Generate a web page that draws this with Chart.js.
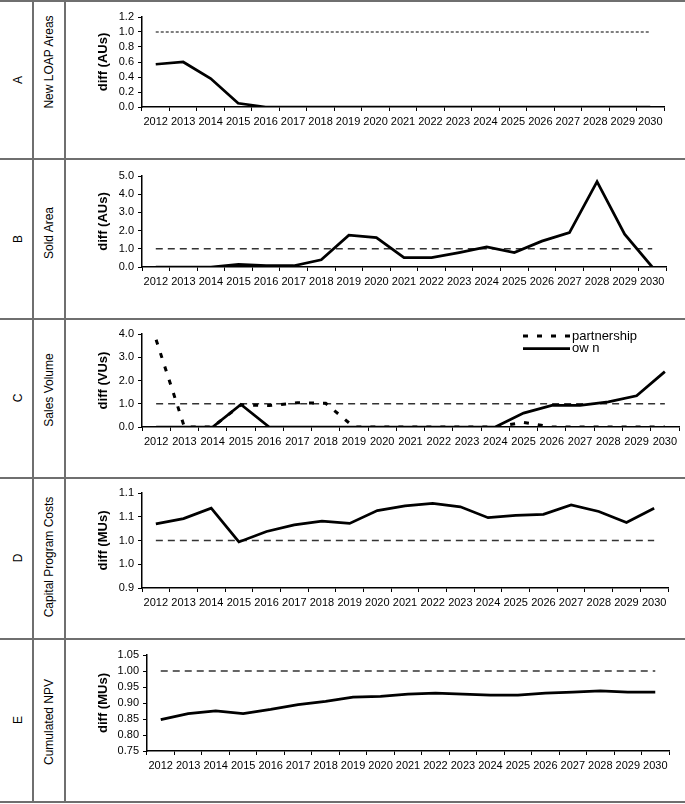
<!DOCTYPE html>
<html>
<head>
<meta charset="utf-8">
<title>diff panels</title>
<script src="https://cdn.jsdelivr.net/npm/chart.js@4.4.1/dist/chart.umd.min.js"></script>
<style>
  html, body { margin: 0; padding: 0; background: #fff; }
  body {
    width: 685px; height: 804px; position: relative; overflow: hidden;
    font-family: "Liberation Sans", Arial, sans-serif;
  }
  .hline { position: absolute; left: 0; width: 685px; height: 2px; background: #6f6f6f; }
  .vline { position: absolute; width: 2px; background: #6f6f6f; }
  .rot {
    position: absolute; white-space: nowrap; font-size: 12px; color: #000;
    transform: translate(-50%, -50%) rotate(-90deg);
  }
  canvas { position: absolute; }
</style>
</head>
<body>
<script>
/* DATA */
const years = ["2012","2013","2014","2015","2016","2017","2018","2019","2020","2021",
               "2022","2023","2024","2025","2026","2027","2028","2029","2030"];

const refLevel = [1,1,1,1,1,1,1,1,1,1,1,1,1,1,1,1,1,1,1];

const newLoapAreas = [0.57,0.60,0.38,0.05,0,0,0,0,0,0,0,0,0,0,0,0,0,0,0];
const soldArea = [0,0,0,0.15,0.07,0.07,0.40,1.75,1.62,0.51,0.51,0.79,1.10,0.79,1.42,1.89,4.69,1.80,0];
const salesPartnership = [3.75,0,0,0.95,0.92,1.04,1.02,0,0,0,0,0,0,0.2,0,0,0,0,0];
const salesOwn = [0,0,0,0.97,0,0,0,0,0,0,0,0,0,0.60,0.93,0.93,1.08,1.34,2.38];
const capitalCosts = [1.035,1.046,1.068,0.997,1.019,1.033,1.041,1.036,1.063,1.073,
                      1.078,1.071,1.048,1.053,1.055,1.075,1.061,1.038,1.068];
const cumulatedNpv = [0.848,0.867,0.875,0.867,0.880,0.895,0.905,0.918,0.921,0.928,
                      0.931,0.928,0.925,0.925,0.931,0.934,0.938,0.934,0.934];

const ticksA = [0,0.2,0.4,0.6,0.8,1.0,1.2];
const labelsA = ["0.0","0.2","0.4","0.6","0.8","1.0","1.2"];
const ticksB = [0,1,2,3,4,5];
const labelsB = ["0.0","1.0","2.0","3.0","4.0","5.0"];
const ticksC = [0,1,2,3,4];
const labelsC = ["0.0","1.0","2.0","3.0","4.0"];
const ticksD = [0.9,0.95,1.0,1.05,1.1];
const labelsD = ["0.9","1.0","1.0","1.1","1.1"];
const ticksE = [0.75,0.8,0.85,0.9,0.95,1.0,1.05];
const labelsE = ["0.75","0.80","0.85","0.90","0.95","1.00","1.05"];

const letters = ["A","B","C","D","E"];
const rowNames = ["New LOAP Areas","Sold Area","Sales Volume","Capital Program Costs","Cumulated NPV"];


/* LAYOUT */
const rowLines = [1, 159, 319, 477.5, 638.5, 801.5];
const colLines = [33, 64.5];
const nameCenters = [62, 233, 390, 557, 722];
const plotBoxes = [
    { left: 142, right: 664, top: 17,  bottom: 107 },
    { left: 142, right: 666, top: 176, bottom: 267 },
    { left: 142, right: 679, top: 334, bottom: 427 },
    { left: 142, right: 668, top: 493, bottom: 588 },
    { left: 147, right: 669, top: 655, bottom: 751 }
];
const legendSpot = { x: 523, y: 336, len: 47, gap: 12.5 };
const yTitleLeft = 96;

Chart.defaults.font.family = '"Liberation Sans", Arial, sans-serif';
Chart.defaults.color = "#000";


/* TABLE FRAME */
function drawFrame() {
    rowLines.forEach(y => {
        const d = document.createElement("div");
        d.className = "hline";
        d.style.top = (y - 1) + "px";
        document.body.appendChild(d);
    });
    colLines.forEach(x => {
        const d = document.createElement("div");
        d.className = "vline";
        d.style.left = (x - 1) + "px";
        d.style.top = rowLines[0] + "px";
        d.style.height = (rowLines[rowLines.length - 1] - rowLines[0]) + "px";
        document.body.appendChild(d);
    });
    letters.forEach((l, i) => {
        const mid = (rowLines[i] + rowLines[i + 1]) / 2;
        const a = document.createElement("div");
        a.className = "rot";
        a.textContent = l;
        a.style.left = (colLines[0] / 2 + 1) + "px";
        a.style.top = mid + "px";
        document.body.appendChild(a);

        const n = document.createElement("div");
        n.className = "rot";
        n.textContent = rowNames[i];
        n.style.left = ((colLines[0] + colLines[1]) / 2 + 0.5) + "px";
        n.style.top = nameCenters[i] + "px";
        document.body.appendChild(n);
    });
}


/* LEGEND FOR SALES VOLUME */
const cornerLegend = {
    id: "cornerLegend",
    afterDatasetsDraw(chart) {
        const ctx = chart.ctx;
        const offX = chart.canvas.offsetLeft;
        const offY = chart.canvas.offsetTop;
        const shown = chart.data.datasets.filter(d => !d.noLegend);

        shown.forEach((ds, i) => {
            const y = legendSpot.y + i * legendSpot.gap - offY;
            const x0 = legendSpot.x - offX;

            ctx.save();
            ctx.strokeStyle = ds.borderColor;
            ctx.lineWidth = ds.borderWidth;
            ctx.setLineDash(ds.borderDash || []);
            ctx.beginPath();
            ctx.moveTo(x0, y);
            ctx.lineTo(x0 + legendSpot.len, y);
            ctx.stroke();
            ctx.restore();

            ctx.save();
            ctx.fillStyle = "#000";
            ctx.font = '13px "Liberation Sans", Arial, sans-serif';
            ctx.textBaseline = "middle";
            ctx.fillText(ds.label, x0 + legendSpot.len + 2, y);
            ctx.restore();
        });
    }
};


/* DATASET HELPERS */
function solid(label, data) {
    return { label, data, borderColor: "#000", borderWidth: 2.75, borderDash: [] };
}

function refLine(dash, width, color) {
    return { label: "ref", data: refLevel, borderColor: color, borderWidth: width,
             borderDash: dash, noLegend: true };
}


/* ONE PANEL */
function makePanel(idx, datasets, yTicks, yLabels, yTitle, plugins) {
    const box = plotBoxes[idx];
    const cLeft = 66, cRight = 685;
    const cTop = Math.round(rowLines[idx]) + 1;
    const cBottom = Math.round(rowLines[idx + 1]) - 1;
    const xHeight = 30;
    const yWidth = box.left - yTitleLeft;

    const canvas = document.createElement("canvas");
    canvas.width = cRight - cLeft;
    canvas.height = cBottom - cTop;
    canvas.style.left = cLeft + "px";
    canvas.style.top = cTop + "px";
    canvas.style.width = canvas.width + "px";
    canvas.style.height = canvas.height + "px";
    document.body.appendChild(canvas);

    new Chart(canvas, {
        type: "line",
        data: { labels: years, datasets },
        options: {
            responsive: false,
            animation: false,
            devicePixelRatio: 1,
            layout: {
                padding: {
                    left: yTitleLeft - cLeft,
                    right: cRight - box.right,
                    top: box.top - cTop,
                    bottom: cBottom - box.bottom - xHeight
                }
            },
            elements: {
                point: { radius: 0 },
                line: { tension: 0, borderCapStyle: "butt", borderJoinStyle: "miter" }
            },
            plugins: {
                legend: { display: false },
                tooltip: { enabled: false }
            },
            scales: {
                x: {
                    offset: true,
                    grid: { offset: true, drawOnChartArea: false, drawTicks: true,
                            tickLength: 4, color: "#000", lineWidth: 1 },
                    border: { display: true, color: "#000", width: 1.5 },
                    ticks: { color: "#000", font: { size: 11 }, padding: 4,
                             maxRotation: 0, autoSkip: false },
                    afterFit: s => { s.height = xHeight; }
                },
                y: {
                    min: yTicks[0],
                    max: yTicks[yTicks.length - 1],
                    afterBuildTicks: s => { s.ticks = yTicks.map(v => ({ value: v })); },
                    grid: { drawOnChartArea: false, drawTicks: true, tickLength: 4,
                            color: "#000", lineWidth: 1 },
                    border: { display: true, color: "#000", width: 1.5 },
                    ticks: { color: "#000", font: { size: 11 }, padding: 4, autoSkip: false,
                             callback: (v, i) => yLabels[i] },
                    title: { display: true, text: yTitle, color: "#000", padding: 0,
                             font: { size: 13, weight: "bold" } },
                    afterFit: s => { s.width = yWidth; }
                }
            }
        },
        plugins: plugins || []
    });
}


document.addEventListener("DOMContentLoaded", () => {
    drawFrame();

    makePanel(0, [solid("New LOAP Areas", newLoapAreas), refLine([3, 2], 1.1, "#000")],
              ticksA, labelsA, "diff (AUs)");

    makePanel(1, [solid("Sold Area", soldArea), refLine([7, 5], 1.6, "#333")],
              ticksB, labelsB, "diff (AUs)");

    makePanel(2, [
        { label: "partnership", data: salesPartnership, borderColor: "#000",
          borderWidth: 3, borderDash: [5, 9] },
        solid("ow n", salesOwn),
        refLine([7, 5], 1.6, "#333")
    ], ticksC, labelsC, "diff (VUs)", [cornerLegend]);

    makePanel(3, [solid("Capital Program Costs", capitalCosts), refLine([7, 5], 1.6, "#333")],
              ticksD, labelsD, "diff (MUs)");

    makePanel(4, [solid("Cumulated NPV", cumulatedNpv), refLine([7, 5], 1.6, "#333")],
              ticksE, labelsE, "diff (MUs)");
});
</script>
</body>
</html>
